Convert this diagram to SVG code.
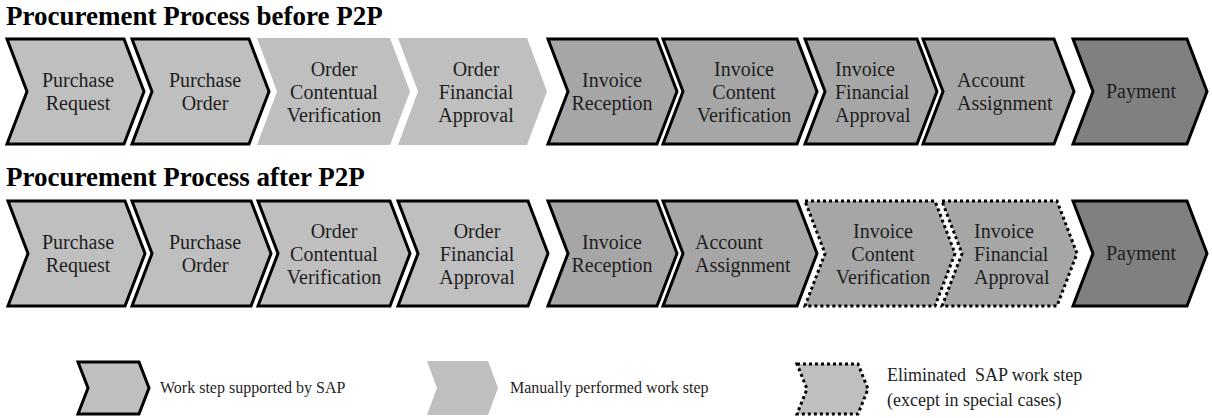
<svg xmlns="http://www.w3.org/2000/svg" width="1212" height="418" viewBox="0 0 1212 418">
<style>
.title{font-family:"Liberation Serif","Times New Roman",serif;font-weight:bold;font-size:27px;fill:#000}
.lbl{font-family:"Liberation Serif","Times New Roman",serif;font-size:20px;fill:#1e1e1e}
.c{text-anchor:middle}
.leg{font-family:"Liberation Serif","Times New Roman",serif;font-size:16px;fill:#1e1e1e}
.leg2{font-family:"Liberation Serif","Times New Roman",serif;font-size:18px;fill:#1e1e1e}
.sap{stroke:#000;stroke-width:3;stroke-linejoin:miter}
.elim{stroke:#000;stroke-width:3;stroke-dasharray:3 3}
.light{fill:#bfbfbf}
.mid{fill:#a6a6a6}
.dark{fill:#808080}
</style>
<rect width="1212" height="418" fill="#fff"/>
<text class="title" x="6" y="25">Procurement Process before P2P</text>
<text class="title" x="6" y="186">Procurement Process after P2P</text>

<g id="row1">
<g id="b-purchase-request"><polygon class="sap light" points="7,39 124,39 144,91.5 124,144 7,144 27,91.5"/><text class="lbl c"><tspan x="78" y="87">Purchase</tspan><tspan x="78" y="110">Request</tspan></text></g>
<g id="b-purchase-order"><polygon class="sap light" points="132,39 249,39 269,91.5 249,144 132,144 152,91.5"/><text class="lbl c"><tspan x="205" y="87">Purchase</tspan><tspan x="205" y="110">Order</tspan></text></g>
<g id="b-order-contentual"><polygon class="light" points="257,38 390,38 410,91.5 390,145 257,145 277,91.5"/><text class="lbl c"><tspan x="334" y="76">Order</tspan><tspan x="334" y="99">Contentual</tspan><tspan x="334" y="122">Verification</tspan></text></g>
<g id="b-order-financial"><polygon class="light" points="398,38 527,38 547,91.5 527,145 398,145 418,91.5"/><text class="lbl c"><tspan x="476" y="76">Order</tspan><tspan x="476" y="99">Financial</tspan><tspan x="476" y="122">Approval</tspan></text></g>
<g id="b-invoice-reception"><polygon class="sap mid" points="548,39 657,39 677,91.5 657,144 548,144 568,91.5"/><text class="lbl c"><tspan x="612" y="87">Invoice</tspan><tspan x="612" y="110">Reception</tspan></text></g>
<g id="b-invoice-content"><polygon class="sap mid" points="663,39 797,39 817,91.5 797,144 663,144 683,91.5"/><text class="lbl c"><tspan x="744" y="76">Invoice</tspan><tspan x="744" y="99">Content</tspan><tspan x="744" y="122">Verification</tspan></text></g>
<g id="b-invoice-financial"><polygon class="sap mid" points="805,39 917,39 937,91.5 917,144 805,144 825,91.5"/><text class="lbl"><tspan x="835" y="76">Invoice</tspan><tspan x="835" y="99">Financial</tspan><tspan x="835" y="122">Approval</tspan></text></g>
<g id="b-account-assignment"><polygon class="sap mid" points="923,39 1054,39 1074,91.5 1054,144 923,144 943,91.5"/><text class="lbl"><tspan x="957" y="87">Account</tspan><tspan x="957" y="110">Assignment</tspan></text></g>
<g id="b-payment"><polygon class="sap dark" points="1073,39 1187,39 1207,91.5 1187,144 1073,144 1093,91.5"/><text class="lbl c" x="1141" y="98">Payment</text></g>
</g>

<g id="row2">
<g id="a-purchase-request"><polygon class="sap light" points="8,201 125,201 145,253.5 125,306 8,306 28,253.5"/><text class="lbl c"><tspan x="78" y="249">Purchase</tspan><tspan x="78" y="272">Request</tspan></text></g>
<g id="a-purchase-order"><polygon class="sap light" points="132,201 251,201 271,253.5 251,306 132,306 152,253.5"/><text class="lbl c"><tspan x="205" y="249">Purchase</tspan><tspan x="205" y="272">Order</tspan></text></g>
<g id="a-order-contentual"><polygon class="sap light" points="258,201 390,201 410,253.5 390,306 258,306 278,253.5"/><text class="lbl c"><tspan x="334" y="238">Order</tspan><tspan x="334" y="261">Contentual</tspan><tspan x="334" y="284">Verification</tspan></text></g>
<g id="a-order-financial"><polygon class="sap light" points="398,201 528,201 548,253.5 528,306 398,306 418,253.5"/><text class="lbl c"><tspan x="477" y="238">Order</tspan><tspan x="477" y="261">Financial</tspan><tspan x="477" y="284">Approval</tspan></text></g>
<g id="a-invoice-reception"><polygon class="sap mid" points="548,201 657,201 677,253.5 657,306 548,306 568,253.5"/><text class="lbl c"><tspan x="612" y="249">Invoice</tspan><tspan x="612" y="272">Reception</tspan></text></g>
<g id="a-account-assignment"><polygon class="sap mid" points="663,201 797,201 817,253.5 797,306 663,306 683,253.5"/><text class="lbl"><tspan x="695" y="249">Account</tspan><tspan x="695" y="272">Assignment</tspan></text></g>
<g id="a-invoice-content"><polygon class="elim mid" points="805,201 935,201 955,253.5 935,306 805,306 825,253.5"/><text class="lbl c"><tspan x="883" y="238">Invoice</tspan><tspan x="883" y="261">Content</tspan><tspan x="883" y="284">Verification</tspan></text></g>
<g id="a-invoice-financial"><polygon class="elim mid" points="942,201 1057,201 1077,253.5 1057,306 942,306 962,253.5"/><text class="lbl"><tspan x="974" y="238">Invoice</tspan><tspan x="974" y="261">Financial</tspan><tspan x="974" y="284">Approval</tspan></text></g>
<g id="a-payment"><polygon class="sap dark" points="1073,201 1187,201 1207,253.5 1187,306 1073,306 1093,253.5"/><text class="lbl c" x="1141" y="260">Payment</text></g>
</g>

<g id="connectors"/>

<g id="legend">
<g id="legend-sap"><polygon class="sap light" points="78,362 139,362 149,388 139,414 78,414 88,388"/><text class="leg" x="160" y="393">Work step supported by SAP</text></g>
<g id="legend-manual"><polygon class="light" points="427,361 488,361 498,388 488,415 427,415 437,388"/><text class="leg" x="510" y="393">Manually performed work step</text></g>
<g id="legend-eliminated"><polygon class="elim light" points="797,364 858,364 868,389 858,414 797,414 807,389"/><text class="leg2"><tspan x="887" y="381">Eliminated&#160; SAP work step</tspan><tspan x="887" y="406">(except in special cases)</tspan></text></g>
</g>
</svg>
